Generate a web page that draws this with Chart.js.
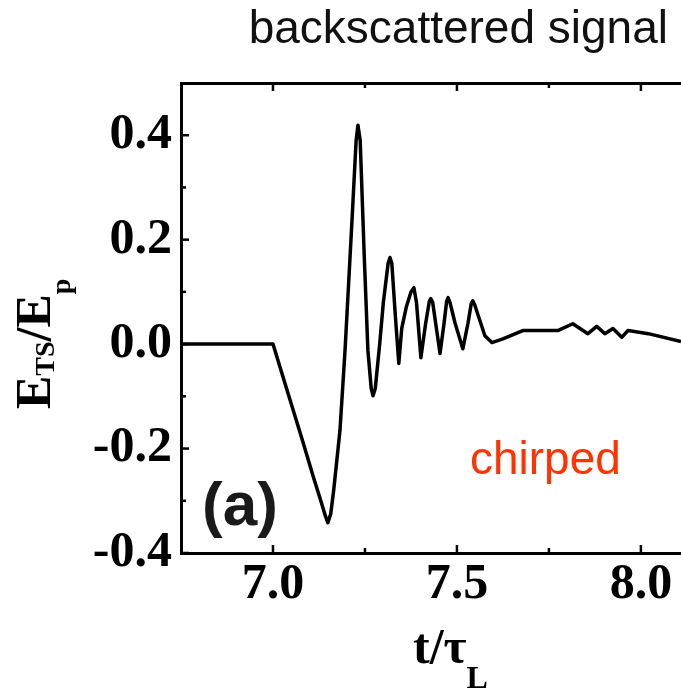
<!DOCTYPE html>
<html>
<head>
<meta charset="utf-8">
<script src="https://cdn.jsdelivr.net/npm/chart.js@4"></script>
<style>
  body { margin: 0; background: #fff; }
  #box { width: 681px; height: 698px; }
</style>
</head>
<body>
<div id="box"><canvas id="grafico"></canvas></div>
<script>
// t / tau_L  and  E_TS / E_p
const tiempos = [6.75, 7.0, 7.04, 7.08, 7.11, 7.13, 7.142, 7.149, 7.157, 7.165, 7.182, 7.196, 7.215, 7.226, 7.231, 7.237, 7.248, 7.258,
  7.267, 7.272, 7.278, 7.290, 7.300, 7.313, 7.318, 7.323, 7.333, 7.342, 7.350, 7.362, 7.375, 7.383, 7.390, 7.402, 7.415, 7.425, 7.429, 7.434, 7.454, 7.465,
  7.472, 7.476, 7.481, 7.495, 7.516, 7.530, 7.539, 7.543, 7.548, 7.560, 7.576, 7.595, 7.625, 7.679, 7.734, 7.774, 7.815, 7.856, 7.880, 7.902,
  7.924, 7.948, 7.965, 8.02, 8.109];
const senal = [0, 0, -0.092, -0.184, -0.255, -0.300, -0.328, -0.342, -0.325, -0.28, -0.166, -0.01, 0.24, 0.39, 0.419, 0.39, 0.17, -0.012,
  -0.085, -0.099, -0.085, 0.0, 0.08, 0.155, 0.166, 0.155, 0.05, -0.037, 0.03, 0.07, 0.100, 0.108, 0.08, -0.026, 0.04, 0.082, 0.087, 0.080, -0.018, 0.04,
  0.082, 0.089, 0.080, 0.04, -0.009, 0.04, 0.078, 0.083, 0.076, 0.05, 0.016, 0.003, 0.01, 0.026, 0.026, 0.026, 0.039, 0.02, 0.034, 0.02,
  0.03, 0.013, 0.026, 0.02, 0.005];

const ticksX = [7.0, 7.5, 8.0];
const menoresX = [7.25, 7.75];
const ticksY = [-0.4, -0.2, 0.0, 0.2, 0.4];
const menoresY = [-0.3, -0.1, 0.1, 0.3];

const serif = '"Liberation Serif", "Times New Roman", serif';
const sans = '"Liberation Sans", Arial, sans-serif';

const marcas = {
  id: 'marcas',
  afterDraw(chart) {
    const { ctx, chartArea: a, scales } = chart;
    const sx = scales.x, sy = scales.y;
    ctx.save();
    ctx.strokeStyle = '#000';
    ctx.lineWidth = 2.5;
    const tick = (x1, y1, x2, y2) => { ctx.beginPath(); ctx.moveTo(x1, y1); ctx.lineTo(x2, y2); ctx.stroke(); };
    ticksX.forEach(v => { const p = sx.getPixelForValue(v); tick(p, a.bottom, p, a.bottom - 8); tick(p, a.top, p, a.top + 8); });
    menoresX.forEach(v => { const p = sx.getPixelForValue(v); tick(p, a.bottom, p, a.bottom - 5); tick(p, a.top, p, a.top + 5); });
    ticksY.forEach(v => { const p = sy.getPixelForValue(v); tick(a.left, p, a.left + 8, p); });
    menoresY.forEach(v => { const p = sy.getPixelForValue(v); tick(a.left, p, a.left + 5, p); });

    ctx.fillStyle = '#111';
    ctx.textBaseline = 'alphabetic';

    // titulo arriba
    ctx.font = '46px ' + sans;
    ctx.textAlign = 'right';
    ctx.fillText('backscattered signal', 668, 43);

    // (a)
    ctx.textAlign = 'left';
    ctx.font = 'bold 62px ' + sans;
    ctx.fillStyle = '#1a1a1a';
    ctx.fillText('(a)', 202, 525);

    // chirped
    ctx.fillStyle = '#ff3300';
    ctx.font = '46px ' + sans;
    ctx.fillText('chirped', 470, 474);

    // eje x: t/tau_L
    ctx.fillStyle = '#000';
    ctx.font = 'bold 50px ' + serif;
    let x = 413;
    ctx.fillText('t/τ', x, 663);
    x += ctx.measureText('t/τ').width;
    ctx.font = 'bold 32px ' + serif;
    ctx.fillText('L', x, 688);

    // eje y: E_TS/E_p (rotado)
    ctx.translate(50, 409);
    ctx.rotate(-Math.PI / 2);
    let px = 0;
    const trozo = (txt, size, dy) => {
      ctx.font = 'bold ' + size + 'px ' + serif;
      ctx.fillText(txt, px, dy);
      px += ctx.measureText(txt).width;
    };
    trozo('E', 50, 0);
    trozo('TS', 28, 4);
    trozo('/E', 50, 0);
    trozo('p', 28, 20);
    ctx.restore();
  }
};

const chart = new Chart(document.getElementById('grafico'), {
  type: 'line',
  data: {
    datasets: [{
      data: tiempos.map((t, i) => ({ x: t, y: senal[i] })),
      borderColor: '#000',
      borderWidth: 3.5,
      pointRadius: 0,
      tension: 0,
      borderJoinStyle: 'round',
      fill: false
    }]
  },
  options: {
    responsive: true,
    maintainAspectRatio: false,
    animation: false,
    layout: { padding: 0 },
    plugins: { legend: { display: false }, tooltip: { enabled: false } },
    scales: {
      x: {
        type: 'linear',
        position: 'bottom',
        min: 6.75,
        max: 8.109,
        afterBuildTicks: s => { s.ticks = ticksX.map(v => ({ value: v })); },
        afterFit: s => { s.height = 145; },
        ticks: {
          callback: v => v.toFixed(1),
          color: '#000',
          font: { family: serif, size: 50, weight: 'bold' },
          padding: 2,
          maxRotation: 0,
          autoSkip: false
        },
        grid: { display: false, drawTicks: false },
        border: { display: true, color: '#000', width: 3 }
      },
      x2: {
        type: 'linear',
        position: 'top',
        min: 6.75,
        max: 8.109,
        afterFit: s => { s.height = 83; },
        ticks: { display: false },
        grid: { display: false, drawTicks: false },
        border: { display: true, color: '#000', width: 3 }
      },
      y: {
        type: 'linear',
        min: -0.4,
        max: 0.5,
        afterBuildTicks: s => { s.ticks = ticksY.map(v => ({ value: v })); },
        afterFit: s => { s.width = 181; },
        ticks: {
          callback: v => v.toFixed(1),
          color: '#000',
          font: { family: serif, size: 50, weight: 'bold' },
          padding: 9
        },
        grid: { display: false, drawTicks: false },
        border: { display: true, color: '#000', width: 3 }
      }
    }
  },
  plugins: [marcas]
});
</script>
</body>
</html>
